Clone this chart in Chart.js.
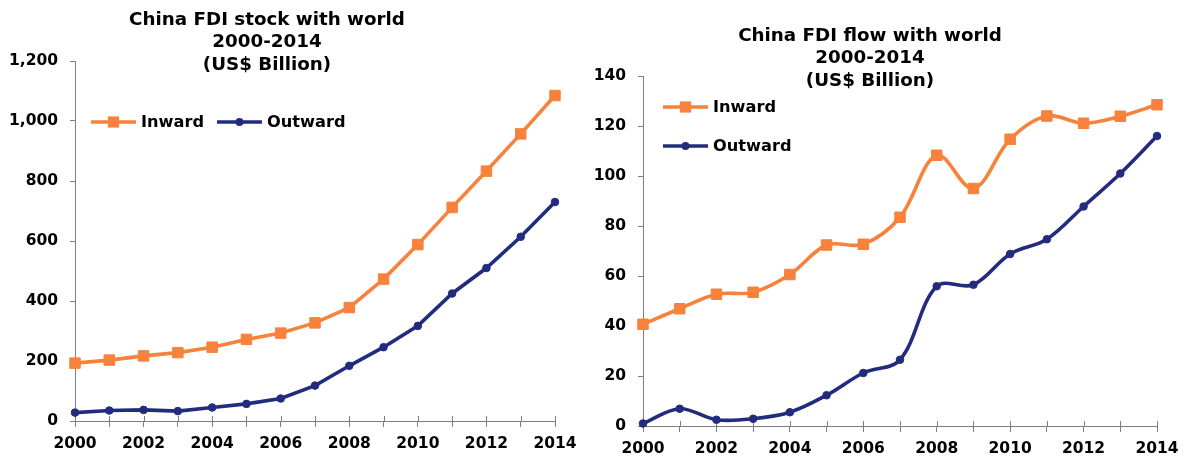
<!DOCTYPE html>
<html>
<head>
<meta charset="utf-8">
<script src="https://cdn.jsdelivr.net/npm/chart.js@4/dist/chart.umd.min.js"></script>
<style>
  html, body { margin: 0; padding: 0; background: #fff; }
  #wrap { position: relative; width: 1188px; height: 456px; overflow: hidden; }
  .panel { position: absolute; top: 0; width: 594px; height: 456px; }
  #p1 { left: 0; }
  #p2 { left: 594px; }
</style>
</head>
<body>
<div id="wrap">
  <div class="panel" id="p1"><canvas id="stock" width="594" height="456"></canvas></div>
  <div class="panel" id="p2"><canvas id="flow" width="594" height="456"></canvas></div>
</div>
<script>
// Years on the category axis
const years = ['2000','2001','2002','2003','2004','2005','2006','2007','2008','2009','2010','2011','2012','2013','2014'];

// FDI stock, US$ billion
const stockInward  = [193, 203, 217, 228, 246, 272, 293, 327, 378, 473, 588, 712, 833, 957, 1085];
const stockOutward = [28, 35, 37, 33, 45, 57, 75, 118, 184, 246, 317, 425, 510, 614, 730];

// FDI flow, US$ billion
const flowInward  = [40.7, 46.9, 52.7, 53.5, 60.6, 72.4, 72.7, 83.5, 108.3, 95.0, 114.7, 124.0, 121.1, 123.9, 128.5];
const flowOutward = [1.0, 6.9, 2.5, 2.9, 5.5, 12.3, 21.2, 26.5, 55.9, 56.5, 68.8, 74.7, 87.8, 101.0, 116.0];

// Axis ranges
const stockAxis = { min: 0, max: 1200, step: 200 };
const flowAxis  = { min: 0, max: 140, step: 20 };

// Titles and legend labels
const stockTitle = ['China FDI stock with world', '2000-2014', '(US$ Billion)'];
const flowTitle  = ['China FDI flow with world', '2000-2014', '(US$ Billion)'];
const seriesNames = ['Inward', 'Outward'];

const ORANGE = '#F7823C';
const NAVY = '#222B7E';
const AXIS = '#7f7f7f';
const FONT = '"DejaVu Sans", Verdana, sans-serif';
const LINE_W = 3.6;

function seriesStyle(kind, tension) {
  if (kind === 0) {
    return {
      borderColor: ORANGE, backgroundColor: ORANGE, borderWidth: LINE_W,
      pointStyle: 'rect', pointRadius: 7.4, pointHoverRadius: 7.4,
      pointBackgroundColor: ORANGE, pointBorderColor: ORANGE, pointBorderWidth: 1,
      tension: tension, clip: false
    };
  }
  return {
    borderColor: NAVY, backgroundColor: NAVY, borderWidth: LINE_W,
    pointStyle: 'circle', pointRadius: 3.8, pointHoverRadius: 3.8,
    pointBackgroundColor: NAVY, pointBorderColor: NAVY, pointBorderWidth: 1,
    tension: tension, clip: false
  };
}

function drawMarker(ctx, kind, x, y) {
  ctx.fillStyle = kind === 0 ? ORANGE : NAVY;
  ctx.beginPath();
  if (kind === 0) {
    ctx.rect(x - 5.6, y - 5.6, 11.2, 11.2);
  } else {
    ctx.arc(x, y, 4, 0, Math.PI * 2);
  }
  ctx.fill();
}

// Titles, legend and the inner half of the x tick marks
function overlayPlugin(cfg) {
  return {
    id: 'overlay',
    beforeDatasetsDraw(chart) {
      const ctx = chart.ctx;
      const xs = chart.scales.x;
      const y0 = chart.chartArea.bottom;
      ctx.save();
      ctx.strokeStyle = AXIS;
      ctx.lineWidth = 1;
      for (let i = 0; i < xs.ticks.length; i++) {
        const px = Math.round(xs.getPixelForTick(i)) + 0.5;
        ctx.beginPath();
        ctx.moveTo(px, y0 - 5);
        ctx.lineTo(px, y0);
        ctx.stroke();
      }
      ctx.restore();
    },
    afterDraw(chart) {
      const ctx = chart.ctx;
      ctx.save();
      ctx.fillStyle = '#000';
      ctx.font = 'bold 18.3px ' + FONT;
      ctx.textAlign = 'center';
      ctx.textBaseline = 'middle';
      cfg.title.forEach((t, i) => ctx.fillText(t, cfg.titleX, cfg.titleY + i * 22.5));

      cfg.legend.forEach((item, k) => {
        const ds = chart.data.datasets[k];
        ctx.strokeStyle = ds.borderColor;
        ctx.lineWidth = LINE_W;
        ctx.beginPath();
        ctx.moveTo(item.x, item.y);
        ctx.lineTo(item.x + 45, item.y);
        ctx.stroke();
        drawMarker(ctx, k, item.x + 22.5, item.y);
        ctx.fillStyle = '#000';
        ctx.font = 'bold 16.2px ' + FONT;
        ctx.textAlign = 'left';
        ctx.textBaseline = 'middle';
        ctx.fillText(ds.label, item.x + 50, item.y + 1);
      });
      ctx.restore();
    }
  };
}

function makeChart(id, inward, outward, axis, tension, geom, overlay) {
  return new Chart(document.getElementById(id), {
    type: 'line',
    data: {
      labels: years,
      datasets: [
        Object.assign({ label: seriesNames[0], data: inward }, seriesStyle(0, tension)),
        Object.assign({ label: seriesNames[1], data: outward }, seriesStyle(1, tension))
      ]
    },
    options: {
      responsive: false,
      animation: false,
      events: [],
      layout: { padding: { top: geom.top, right: geom.right, left: 0, bottom: 0 } },
      plugins: { legend: { display: false }, title: { display: false }, tooltip: { enabled: false } },
      scales: {
        x: {
          type: 'category',
          offset: false,
          afterFit(scale) { scale.height = geom.xHeight; },
          border: { display: true, color: AXIS, width: 1 },
          grid: { display: true, drawOnChartArea: false, drawTicks: true, tickLength: 6, color: AXIS, offset: false },
          ticks: {
            autoSkip: false, maxRotation: 0, minRotation: 0, padding: geom.xPad,
            color: '#000', font: { family: FONT, size: 15.5, weight: 'bold' },
            callback(value, index) { return index % 2 === 0 ? this.getLabelForValue(value) : ''; }
          }
        },
        y: {
          min: axis.min, max: axis.max,
          afterFit(scale) { scale.width = geom.yWidth; },
          border: { display: true, color: AXIS, width: 1 },
          grid: { display: true, drawOnChartArea: false, drawTicks: true, tickLength: 5, color: AXIS },
          ticks: {
            stepSize: axis.step, padding: 12,
            color: '#000', font: { family: FONT, size: 15.5, weight: 'bold' },
            callback(value) { return Number(value).toLocaleString('en-US'); }
          }
        }
      }
    },
    plugins: [overlayPlugin(overlay)]
  });
}

makeChart('stock', stockInward, stockOutward, stockAxis, 0,
  { top: 61, right: 39, xHeight: 35, yWidth: 75, xPad: 8 },
  { title: stockTitle, titleX: 267, titleY: 20,
    legend: [{ x: 91, y: 122 }, { x: 217, y: 122 }] });

makeChart('flow', flowInward, flowOutward, flowAxis, 0.35,
  { top: 76, right: 31, xHeight: 30, yWidth: 49, xPad: 8 },
  { title: flowTitle, titleX: 276, titleY: 36,
    legend: [{ x: 69, y: 107 }, { x: 69, y: 146 }] });
</script>
</body>
</html>
